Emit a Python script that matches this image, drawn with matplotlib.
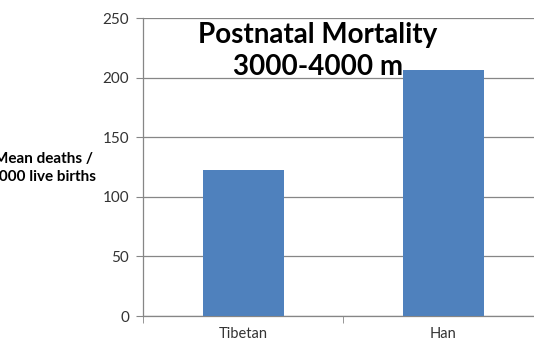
import matplotlib
matplotlib.use("Agg")
import matplotlib.pyplot as plt

categories = ["Tibetan", "Han"]
values = [122.5, 206.5]
yticks = [0, 50, 100, 150, 200, 250]

plt.rcParams['font.family'] = ['Lato', 'DejaVu Sans']

W, H = 534, 358
fig = plt.figure(figsize=(W / 100, H / 100), dpi=100)
left, right, bottom, top = 143 / W, 543 / W, 1 - 316 / H, 1 - 18 / H
ax = fig.add_axes([left, bottom, right - left, top - bottom])

x = list(range(len(categories)))
ax.bar(x, values, width=0.405, color="#4F81BD", zorder=3)

ax.set_xlim(-0.5, len(categories) - 0.5)
ax.set_ylim(0, 250)
ax.set_yticks(yticks)
ax.set_yticklabels([str(t) for t in yticks], fontsize=11, color="#333333")
ax.set_xticks(x)
ax.set_xticklabels(categories, fontsize=10.5, color="#333333")
ax.set_xticks([i - 0.5 for i in range(len(categories) + 1)], minor=True)
ax.tick_params(axis="x", which="major", length=0, pad=8)
ax.tick_params(axis="x", which="minor", length=5, color="#868686", direction="out")
ax.tick_params(axis="y", length=5, color="#868686", direction="out", pad=5)

ax.yaxis.grid(True, color="#868686", linewidth=0.9, zorder=0)
for s in ["top", "right"]:
    ax.spines[s].set_visible(False)
for s in ["left", "bottom"]:
    ax.spines[s].set_color("#868686")
    ax.spines[s].set_linewidth(0.9)

fig.text(318 / W, 1 - 22 / H, "Postnatal Mortality\n3000-4000 m", ha="center", va="top",
         fontsize=20, fontweight="bold", color="#000000", linespacing=1.3)

fig.text(96 / W, 1 - 168 / H, "Mean deaths /\n1000 live births", ha="right", va="center",
         multialignment="center", fontsize=11, fontweight="bold", color="#000000",
         linespacing=1.3)

fig.savefig("out.png", dpi=100)
